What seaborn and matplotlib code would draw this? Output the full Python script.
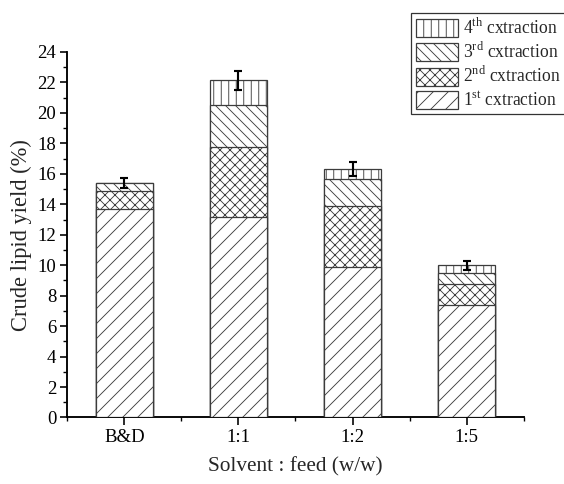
import numpy as np
import matplotlib
matplotlib.use("Agg")
import matplotlib.pyplot as plt
from matplotlib.patches import Patch
from matplotlib.ticker import MultipleLocator, FixedLocator
import seaborn as sns

# Solvent-to-feed ratios and crude lipid yield per extraction stage (%)
ratios = ["B&D", "1:1", "1:2", "1:5"]
first_ext = [13.66, 13.15, 9.90, 7.36]
second_ext = [1.22, 4.62, 3.98, 1.42]
third_ext = [0.52, 2.76, 1.79, 0.72]
fourth_ext = [0.00, 1.60, 0.64, 0.49]
total_err = [0.30, 0.60, 0.47, 0.30]

stage_labels = ["1$^{\\mathregular{st}}$ cxtraction", "2$^{\\mathregular{nd}}$ cxtraction",
                "3$^{\\mathregular{rd}}$ cxtraction", "4$^{\\mathregular{th}}$ cxtraction"]
stage_hatches = ["//", "xxx", "\\\\\\", "||"]

sns.set_style("ticks")
plt.rcParams["font.family"] = ["Liberation Serif", "DejaVu Serif"]
plt.rcParams["mathtext.fontset"] = "custom"
plt.rcParams["mathtext.rm"] = "Liberation Serif"
plt.rcParams["hatch.linewidth"] = 0.7

DPI = 90
fig = plt.figure(figsize=(564 / DPI, 484 / DPI), dpi=DPI)
fig.patch.set_facecolor("white")
ax = fig.add_axes([0.1195, 0.1374, 0.8088, 0.7552])

stages = np.array([first_ext, second_ext, third_ext, fourth_ext])
cumulative = np.cumsum(stages, axis=0)

edge = "#3c3c3c"
# Draw cumulative totals from the top stage downward so each lower stage covers the one above
for k in range(3, -1, -1):
    sns.barplot(x=ratios, y=cumulative[k], color="white", saturation=1,
                edgecolor=edge, linewidth=1.0, hatch=stage_hatches[k],
                width=0.5, ax=ax, zorder=2 + (3 - k))

totals = cumulative[3]
ax.errorbar(np.arange(len(ratios)), totals, yerr=total_err, fmt="none",
            ecolor="black", elinewidth=1.7, capsize=3.3, capthick=1.7, zorder=10)

ax.set_xlim(-0.5, 3.5)
ax.set_ylim(0, 24)
ax.yaxis.set_major_locator(MultipleLocator(2))
ax.yaxis.set_minor_locator(MultipleLocator(1))
ax.xaxis.set_minor_locator(FixedLocator([-0.5, 0.5, 1.5, 2.5, 3.5]))

sns.despine(ax=ax, top=True, right=True)
for side in ("left", "bottom"):
    ax.spines[side].set_linewidth(1.5)
    ax.spines[side].set_color("black")

ax.tick_params(axis="both", which="major", direction="out", length=6, width=1.3,
               labelsize=15, color="black", labelcolor="black", pad=3)
ax.tick_params(axis="both", which="minor", direction="out", length=3.5, width=1.1,
               color="black")

ax.set_ylabel("Crude lipid yield (%)", fontsize=18, labelpad=4)
ax.set_xlabel("Solvent : feed (w/w)", fontsize=17, labelpad=9)

handles = [Patch(facecolor="white", edgecolor=edge, hatch=stage_hatches[k], linewidth=1.0,
                 label=stage_labels[k]) for k in range(3, -1, -1)]
leg = fig.legend(handles=handles, loc="upper left", bbox_to_anchor=(0.729, 0.973),
                 fontsize=14, frameon=True, fancybox=False, edgecolor="#333333",
                 framealpha=1, borderpad=0.25, labelspacing=0.25, handlelength=2.4,
                 handleheight=1.2, handletextpad=0.3, borderaxespad=0)
leg.get_frame().set_linewidth(1.0)

fig.savefig("out.png", dpi=DPI, facecolor="white")
